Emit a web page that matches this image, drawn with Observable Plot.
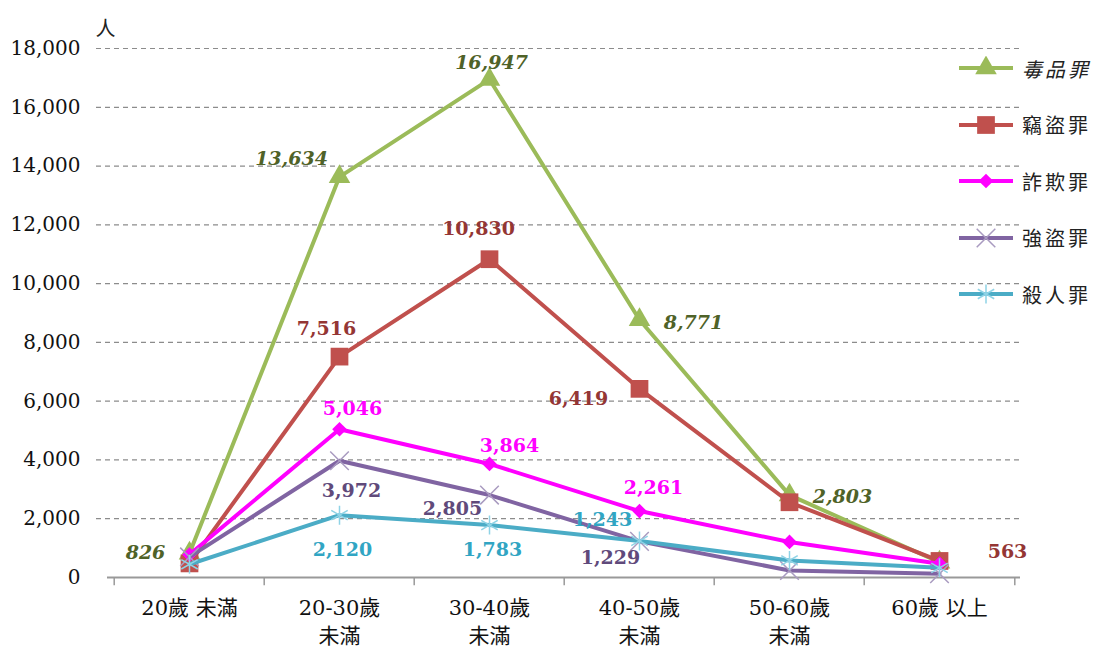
<!DOCTYPE html>
<html><head><meta charset="utf-8">
<script src="https://cdn.jsdelivr.net/npm/d3@7"></script>
<script src="https://cdn.jsdelivr.net/npm/@observablehq/plot@0.6"></script>
<style>
body{margin:0;background:#fff;}
#wrap{position:relative;width:1100px;height:649px;overflow:hidden;}
#legend{position:absolute;left:955px;top:40px;font-family:"Noto Sans CJK TC",sans-serif;font-size:20px;color:#222;}
#legend .item{display:flex;align-items:center;height:56.5px;}
#legend .item span{margin-left:5px;letter-spacing:3px;}
</style></head><body><div id="wrap"><div id="legend"></div></div>
<script>
// ---- data ----
const categories = ["20歲未滿","20-30歲未滿","30-40歲未滿","40-50歲未滿","50-60歲未滿","60歲以上"];
const tickLabels = ["20歲 未滿","20-30歲\n未滿","30-40歲\n未滿","40-50歲\n未滿","50-60歲\n未滿","60歲 以上"];
const seriesNames = ["毒品罪","竊盜罪","詐欺罪","強盜罪","殺人罪"];
const drugs    = [826, 13634, 16947, 8771, 2803, 520];
const theft    = [480, 7516, 10830, 6419, 2560, 563];
const fraud    = [780, 5046, 3864, 2261, 1210, 470];
const robbery  = [700, 3972, 2805, 1229, 240, 130];
const homicide = [450, 2120, 1783, 1243, 580, 330];
const yTicks = [0,2000,4000,6000,8000,10000,12000,14000,16000,18000];

// ---- styles ----
const seriesValues = [drugs, theft, fraud, robbery, homicide];
const lineColors  = ["#9BBB59","#C0504D","#FF00FF","#8064A2","#4BACC6"];
const labelColors = ["#4F6228","#943634","#FF00FF","#604A7B","#31A5C3"];
const symbols = ["triangle","square","diamond2","times","asterisk"];
const symbolR = [8,10,6.6,8.5,9];
const symbolStroke = ["none","none","none","#A99BC0","#8FD3E6"];
// label nudges [dx,dy] per series/category (null = no label)
const nudges = [
  [[-44,0],[-48,-18],[2,-17],[54,3],[53,2],null],
  [null,[-13,-28],[-11,-30],[-61,10],null,[68,-9]],
  [null,[13,-20],[20,-18],[14,-23],null,null],
  [null,[12,30],[-37,14],[-29,17],null,null],
  [null,[3,35],[3,25],[-37,-21],null,null]
];

const rows = seriesNames.flatMap((s, si) => categories.map((c, ci) => ({series: s, si, cat: c, ci, value: seriesValues[si][ci]})));
const fmt = d3.format(",");
const serif = '"DejaVu Serif","Noto Sans CJK TC",serif';

const marks = [
  Plot.gridY(yTicks.filter(d => d > 0), {stroke: "#8c8c8c", strokeOpacity: 1, strokeDasharray: "5,4", strokeWidth: 1.2, insetLeft: -11}),
  Plot.ruleY([0], {stroke: "#999", strokeWidth: 2}),
  Plot.axisY({ticks: yTicks, tickFormat: fmt, tickSize: 0, tickPadding: 27, fontSize: 20, fontFamily: serif, fill: "#111", label: null}),
  Plot.axisX({tickFormat: (d, i) => tickLabels[categories.indexOf(d)], tickSize: 0, tickPadding: 17, fontSize: 21, fontFamily: serif, lineHeight: 1.36, fill: "#111", label: null}),
  Plot.ruleX(categories, {x: d => d, y1: 0, y2: -280, dx: -75.3, stroke: "#999", strokeWidth: 1.5}),
  Plot.ruleX([categories[categories.length-1]], {x: d => d, y1: 0, y2: -280, dx: 75.3, stroke: "#999", strokeWidth: 1.5}),
  Plot.text(["人"], {frameAnchor: "top-left", dx: -12, dy: -27, fontSize: 20, fontFamily: serif, fill: "#222"}),
];
seriesNames.forEach((s, si) => {
  const data = rows.filter(r => r.si === si);
  marks.push(Plot.line(data, {x: "cat", y: "value", stroke: lineColors[si], strokeWidth: 4}));
  const filled = symbolStroke[si] === "none";
  marks.push(Plot.dot(data, {x: "cat", y: "value", symbol: symbols[si], r: symbolR[si],
    fill: filled ? lineColors[si] : "none", stroke: filled ? "none" : symbolStroke[si], strokeWidth: 1.5}));
});
rows.forEach(r => {
  const n = nudges[r.si][r.ci];
  if (!n) return;
  marks.push(Plot.text([r], {x: "cat", y: "value", text: d => fmt(d.value), dx: n[0], dy: n[1],
    fill: labelColors[r.si], fontSize: 19, fontWeight: "bold", fontStyle: r.si === 0 ? "italic" : "normal", fontFamily: serif}));
});

const chart = Plot.plot({
  width: 1100, height: 649,
  marginLeft: 107, marginRight: 80, marginTop: 48, marginBottom: 72,
  x: {type: "point", domain: categories, padding: 0.531, label: null},
  y: {domain: [0, 18000], label: null},
  style: {background: "#fff", overflow: "visible"},
  marks
});
document.getElementById("wrap").prepend(chart);

// ---- legend ----
const legend = d3.select("#legend");
seriesNames.forEach((s, si) => {
  const item = legend.append("div").attr("class", "item");
  const svg = item.append("svg").attr("width", 62).attr("height", 24);
  svg.append("line").attr("x1", 4).attr("x2", 58).attr("y1", 12).attr("y2", 12).attr("stroke", lineColors[si]).attr("stroke-width", 4);
  const sym = {triangle: d3.symbolTriangle, square: d3.symbolSquare, diamond2: d3.symbolDiamond2, times: d3.symbolTimes, asterisk: d3.symbolAsterisk}[symbols[si]];
  const filled = symbolStroke[si] === "none";
  svg.append("path").attr("transform", "translate(31,12)")
    .attr("d", d3.symbol(sym, symbolR[si] * symbolR[si] * Math.PI)())
    .attr("fill", filled ? lineColors[si] : "none").attr("stroke", filled ? "none" : symbolStroke[si]).attr("stroke-width", 1.5);
  item.append("span").text(s).style("font-style", si === 0 ? "italic" : "normal");
});
</script></body></html>
